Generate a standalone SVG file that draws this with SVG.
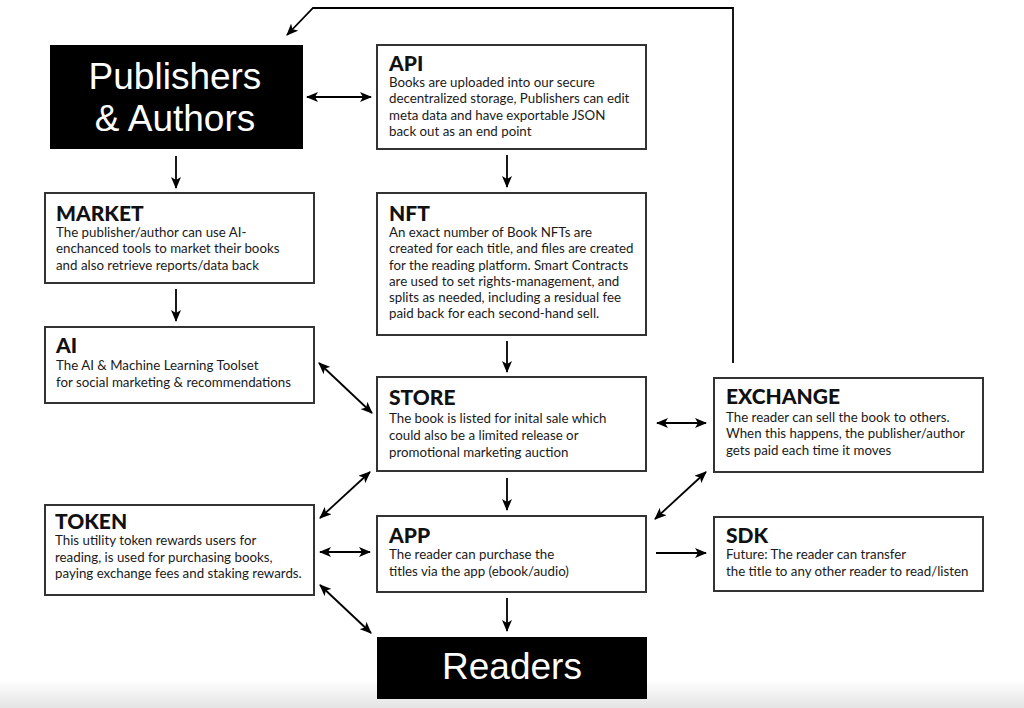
<svg xmlns="http://www.w3.org/2000/svg" width="1024" height="708" viewBox="0 0 1024 708">
<defs>
<linearGradient id="bg" x1="0" y1="0" x2="0" y2="1">
<stop offset="0" stop-color="#ffffff"/>
<stop offset="1" stop-color="#e4e4e4"/>
</linearGradient>
<marker id="ah" viewBox="0 0 12 10" markerWidth="12" markerHeight="10" refX="11" refY="5" orient="auto-start-reverse" markerUnits="userSpaceOnUse">
<path d="M0,0 L12,5 L0,10 L3,5 z" fill="#000"/>
</marker>
</defs>
<style>
.box{fill:#fff;stroke:#333;stroke-width:2}
.dark{fill:#000}
.big{font-family:"Liberation Sans",Arial,sans-serif;font-size:37px;fill:#fff;text-anchor:middle}
.t{font-family:Lato,"Open Sans",sans-serif;font-weight:900;font-size:21px;fill:#111}
.b{font-family:Lato,"Open Sans",sans-serif;font-size:13.3px;fill:#1a1a1a}
.c{fill:none;stroke:#000;stroke-width:1.8}
</style>
<rect x="0" y="0" width="1024" height="708" fill="#fff"/>
<rect x="0" y="680" width="1024" height="28" fill="url(#bg)"/>

<g id="publishers">
<rect class="dark" x="50" y="45" width="253" height="104"/>
<text class="big" x="175" y="89">Publishers</text>
<text class="big" x="175" y="131">&amp; Authors</text>
</g>

<g id="api">
<rect class="box" x="377" y="45" width="269" height="104"/>
<text class="t" x="389" y="71">API</text>
<text class="b" x="389" y="87">Books are uploaded into our secure</text>
<text class="b" x="389" y="103">decentralized storage, Publishers can edit</text>
<text class="b" x="389" y="120">meta data and have exportable JSON</text>
<text class="b" x="389" y="136">back out as an end point</text>
</g>

<g id="market">
<rect class="box" x="45" y="193" width="269" height="90"/>
<text class="t" x="56" y="221">MARKET</text>
<text class="b" x="56" y="237">The publisher/author can use AI-</text>
<text class="b" x="56" y="253">enchanced tools to market their books</text>
<text class="b" x="56" y="270">and also retrieve reports/data back</text>
</g>

<g id="nft">
<rect class="box" x="377" y="193" width="269" height="142"/>
<text class="t" x="389" y="221">NFT</text>
<text class="b" x="389" y="237">An exact number of Book NFTs are</text>
<text class="b" x="389" y="253">created for each title, and files are created</text>
<text class="b" x="389" y="270">for the reading platform. Smart Contracts</text>
<text class="b" x="389" y="286">are used to set rights-management, and</text>
<text class="b" x="389" y="302">splits as needed, including a residual fee</text>
<text class="b" x="389" y="318">paid back for each second-hand sell.</text>
</g>

<g id="ai">
<rect class="box" x="45" y="327" width="269" height="76"/>
<text class="t" x="56" y="353">AI</text>
<text class="b" x="56" y="370">The AI &amp; Machine Learning Toolset</text>
<text class="b" x="56" y="387">for social marketing &amp; recommendations</text>
</g>

<g id="store">
<rect class="box" x="377" y="377" width="269" height="94"/>
<text class="t" x="389" y="405">STORE</text>
<text class="b" x="389" y="423">The book is listed for inital sale which</text>
<text class="b" x="389" y="440">could also be a limited release or</text>
<text class="b" x="389" y="457">promotional marketing auction</text>
</g>

<g id="exchange">
<rect class="box" x="714" y="378" width="269" height="94"/>
<text class="t" x="726" y="404">EXCHANGE</text>
<text class="b" x="726" y="422">The reader can sell the book to others.</text>
<text class="b" x="726" y="438">When this happens, the publisher/author</text>
<text class="b" x="726" y="455">gets paid each time it moves</text>
</g>

<g id="token">
<rect class="box" x="45" y="505" width="269" height="90"/>
<text class="t" x="55" y="529">TOKEN</text>
<text class="b" x="55" y="545">This utility token rewards users for</text>
<text class="b" x="55" y="562">reading, is used for purchasing books,</text>
<text class="b" x="55" y="578">paying exchange fees and staking rewards.</text>
</g>

<g id="app">
<rect class="box" x="377" y="516" width="269" height="76"/>
<text class="t" x="389" y="543">APP</text>
<text class="b" x="389" y="559">The reader can purchase the</text>
<text class="b" x="389" y="576">titles via the app (ebook/audio)</text>
</g>

<g id="sdk">
<rect class="box" x="714" y="517" width="269" height="74"/>
<text class="t" x="726" y="543">SDK</text>
<text class="b" x="726" y="559">Future: The reader can transfer</text>
<text class="b" x="726" y="576">the title to any other reader to read/listen</text>
</g>

<g id="readers">
<rect class="dark" x="377" y="637" width="270" height="62"/>
<text class="big" x="512" y="679">Readers</text>
</g>

<g id="connectors">
<line class="c" x1="307" y1="97" x2="371" y2="97" marker-start="url(#ah)" marker-end="url(#ah)"/>
<line class="c" x1="176" y1="156" x2="176" y2="188" marker-end="url(#ah)"/>
<line class="c" x1="507" y1="155" x2="507" y2="187" marker-end="url(#ah)"/>
<line class="c" x1="176" y1="289" x2="176" y2="321" marker-end="url(#ah)"/>
<line class="c" x1="507" y1="341" x2="507" y2="372" marker-end="url(#ah)"/>
<line class="c" x1="319" y1="363" x2="372" y2="413" marker-start="url(#ah)" marker-end="url(#ah)"/>
<line class="c" x1="657" y1="423" x2="706" y2="423" marker-start="url(#ah)" marker-end="url(#ah)"/>
<line class="c" x1="507" y1="478" x2="507" y2="510" marker-end="url(#ah)"/>
<line class="c" x1="320" y1="518" x2="370" y2="472" marker-start="url(#ah)" marker-end="url(#ah)"/>
<line class="c" x1="320" y1="552" x2="370" y2="552" marker-start="url(#ah)" marker-end="url(#ah)"/>
<line class="c" x1="320" y1="585" x2="371" y2="633" marker-start="url(#ah)" marker-end="url(#ah)"/>
<line class="c" x1="655" y1="519" x2="706" y2="472" marker-start="url(#ah)" marker-end="url(#ah)"/>
<line class="c" x1="656" y1="553" x2="706" y2="553" marker-end="url(#ah)"/>
<line class="c" x1="507" y1="598" x2="507" y2="631" marker-end="url(#ah)"/>
<polyline class="c" points="733,363 733,8 313,8 287,35" marker-end="url(#ah)"/>
</g>
</svg>
